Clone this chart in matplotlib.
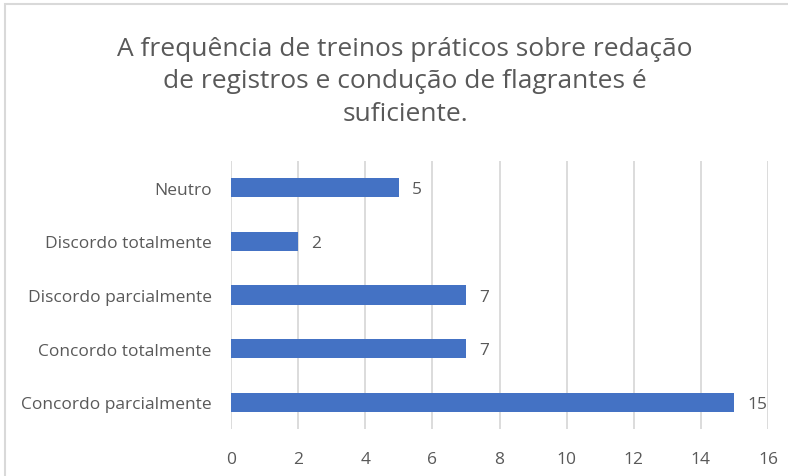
import matplotlib
matplotlib.use("Agg")
import matplotlib.pyplot as plt
from matplotlib.patches import Rectangle

categories = ["Concordo parcialmente", "Concordo totalmente", "Discordo parcialmente",
              "Discordo totalmente", "Neutro"]
values = [15, 7, 7, 2, 5]
xticks = [0, 2, 4, 6, 8, 10, 12, 14, 16]
title = ("A frequência de treinos práticos sobre redação\n"
         "de registros e condução de flagrantes é\nsuficiente.")

BLUE = "#4472c4"
GREY = "#595959"
GRID = "#d9d9d9"

plt.rcParams["font.family"] = ["Open Sans", "DejaVu Sans"]

fig = plt.figure(figsize=(7.88, 4.77), dpi=100)
ax = fig.add_axes([231 / 788, 1 - 430 / 477, 537 / 788, 268 / 477])

pos = range(len(categories))
ax.barh(pos, values, height=0.36, color=BLUE, zorder=3)
for p, v in zip(pos, values):
    ax.text(v + 0.4, p - 0.03, str(v), va="center", ha="left", fontsize=12.5, color=GREY)

ax.set_xlim(0, 16)
ax.set_ylim(-0.5, 4.5)
ax.set_xticks(xticks)
ax.set_yticks(list(pos))
ax.set_yticklabels(categories)
ax.tick_params(length=0, labelsize=12.5, colors=GREY)
ax.tick_params(axis="x", pad=16)
ax.tick_params(axis="y", pad=14)
ax.grid(axis="x", color=GRID, linewidth=1.3, zorder=0)
for s in ax.spines.values():
    s.set_visible(False)

fig.text(405 / 788, 1 - 82 / 477, title, ha="center", va="center",
         fontsize=19, color=GREY, linespacing=1.4)

fig.patches.append(Rectangle((5 / 788, -0.1), 1.2, 1 - 5 / 477 + 0.1,
                             transform=fig.transFigure, fill=False,
                             edgecolor=GRID, linewidth=1.5))

fig.savefig("out.png", dpi=100)
